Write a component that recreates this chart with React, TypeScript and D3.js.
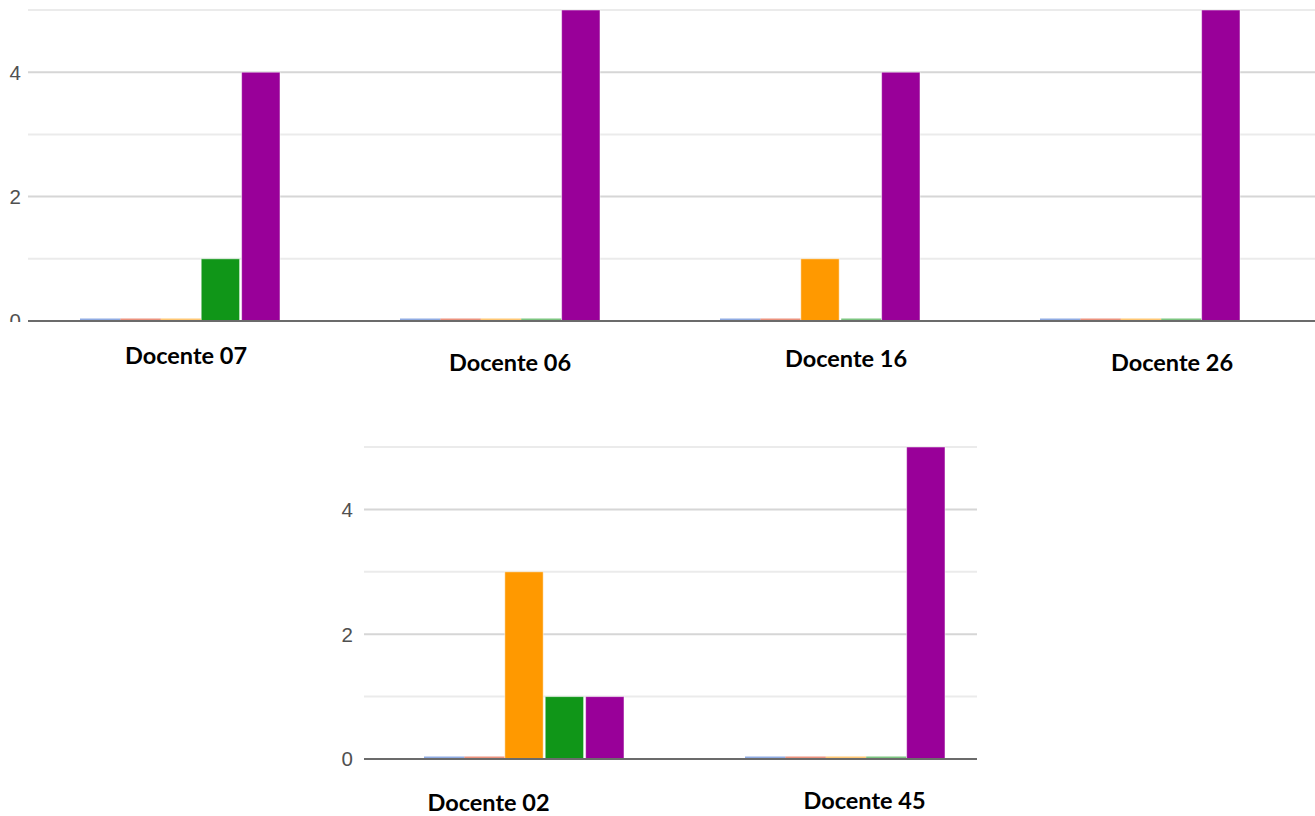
import React from "react";
import * as d3 from "d3";

const series = ["S1", "S2", "S3", "S4", "S5"];
const colors = ["#3366cc", "#dc3912", "#ff9900", "#109618", "#990099"];

const topCategories = ["Docente 07", "Docente 06", "Docente 16", "Docente 26"];
const topValues = [
  [0, 0, 0, 1, 4],
  [0, 0, 0, 0, 5],
  [0, 0, 1, 0, 4],
  [0, 0, 0, 0, 5],
];
const bottomCategories = ["Docente 02", "Docente 45"];
const bottomValues = [
  [0, 0, 3, 1, 1],
  [0, 0, 0, 0, 5],
];
const yTicks = [0, 2, 4];
const yMinor = [1, 3, 5];

type PanelProps = {
  id: string;
  categories: string[];
  values: number[][];
  x0: number;
  x1: number;
  gridX0: number;
  gridX1: number;
  yTop: number;
  yBase: number;
  labelDx: number[];
  labelY: number[];
  axisX: number;
  clipZero?: boolean;
};

function Panel(p: PanelProps) {
  const xBand = d3.scaleBand<string>().domain(p.categories).range([p.x0, p.x1]);
  const bw = xBand.bandwidth();
  const inner = d3.scaleBand<string>().domain(series).range([60, 260]).paddingInner(0.05);
  const y = d3.scaleLinear().domain([0, 5]).range([p.yBase, p.yTop]);
  return (
    <g>
      {p.clipZero && (
        <defs>
          <clipPath id={`clip-${p.id}`}>
            <rect x={0} y={0} width={60} height={p.yBase + 1} />
          </clipPath>
        </defs>
      )}
      {yMinor.map((t) => (
        <line key={"m" + t} x1={p.gridX0} x2={p.gridX1} y1={y(t)} y2={y(t)} stroke="#ebebeb" strokeWidth={2} />
      ))}
      {yTicks.filter((t) => t !== 0).map((t) => (
        <line key={"g" + t} x1={p.gridX0} x2={p.gridX1} y1={y(t)} y2={y(t)} stroke="#d6d6d6" strokeWidth={2} />
      ))}
      {yTicks.map((t) => (
        <text
          key={"t" + t}
          x={p.axisX}
          y={y(t)}
          dy="0.36em"
          textAnchor="end"
          fontFamily="'Liberation Sans', Arial, sans-serif"
          fontSize={20.5}
          fill="#505050"
          clipPath={p.clipZero && t === 0 ? `url(#clip-${p.id})` : undefined}
        >
          {t}
        </text>
      ))}
      {p.categories.map((c, ci) =>
        p.values[ci].map((v, si) => {
          const bx = (xBand(c) as number) + (inner(series[si]) as number);
          const w = inner.bandwidth();
          if (v === 0) {
            return (
              <rect key={c + si} x={bx} y={y(0) - 2.5} width={w + 2} height={2} fill={colors[si]} opacity={0.55} />
            );
          }
          return (
            <rect
              key={c + si}
              x={bx}
              y={y(v)}
              width={w}
              height={y(0) - y(v)}
              fill={colors[si]}
              stroke="#fff"
              strokeOpacity={0.5}
              strokeWidth={1}
            />
          );
        })
      )}
      <line x1={p.gridX0} x2={p.gridX1} y1={y(0)} y2={y(0)} stroke="#6b6b6b" strokeWidth={2} />
      {p.categories.map((c, ci) => (
        <text
          key={"l" + c}
          x={(xBand(c) as number) + bw / 2 + p.labelDx[ci]}
          y={p.labelY[ci]}
          textAnchor="middle"
          fontFamily="Lato, 'Open Sans', sans-serif"
          fontWeight={700}
          fontSize={23.5}
          fill="#000"
        >
          {c}
        </text>
      ))}
    </g>
  );
}

export default function App() {
  return (
    <div style={{ position: "absolute", left: 0, top: 0 }}>
      <svg width={1315} height={816} style={{ display: "block", background: "#fff" }}>
        <Panel
          id="top"
          categories={topCategories}
          values={topValues}
          x0={20}
          x1={1300}
          gridX0={28}
          gridX1={1315}
          yTop={10}
          yBase={321}
          labelDx={[6, 10, 26, 32]}
          labelY={[364, 371, 367, 371]}
          axisX={21}
          clipZero
        />
        <Panel
          id="bottom"
          categories={bottomCategories}
          values={bottomValues}
          x0={364}
          x1={1006}
          gridX0={364}
          gridX1={977}
          yTop={447}
          yBase={759}
          labelDx={[-36, 19]}
          labelY={[811, 809]}
          axisX={353}
        />
      </svg>
    </div>
  );
}
